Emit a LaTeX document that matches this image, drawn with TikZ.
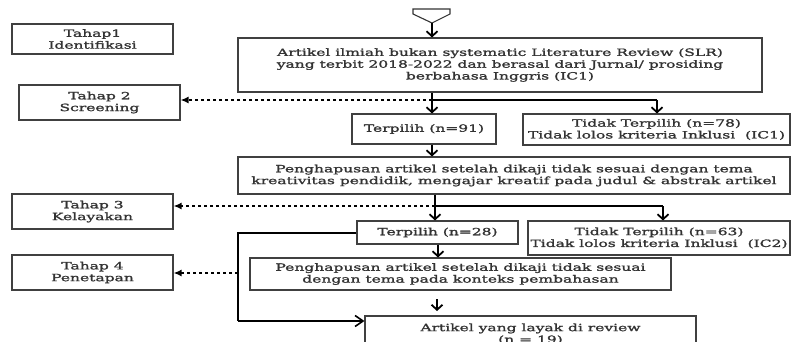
\documentclass[tikz,border=0pt]{standalone}
\usepackage{fontspec}
\usetikzlibrary{arrows.meta,calc}
\newfontfamily\df[FakeStretch=1.55,FakeBold=1.6]{DejaVu Serif}
\tikzset{
  box/.style={draw=black!75, line width=1.1pt, inner sep=0pt, align=center,
    font=\df\fontsize{10}{11.8}\selectfont, text=black!80},
  flow/.style={line width=1.8pt, draw=black},
  flowarr/.style={flow, -{Straight Barb[length=5pt,width=11pt]}},
  dasharr/.style={line width=1.8pt, dash pattern=on 3pt off 3pt, -{Latex[length=8pt,width=7pt]}},
}
\begin{document}
\begin{tikzpicture}[x=1pt,y=-1pt]
\clip (0,0) rectangle (791,342);
\fill[white] (0,0) rectangle (791,342);
% left stage boxes
\node[box, minimum width=161, minimum height=30] (t1) at (92.5,39) {Tahap1\\Identifikasi};
\node[box, minimum width=161, minimum height=35] (t2) at (99.5,102.5) {Tahap 2\\Screening};
\node[box, minimum width=161, minimum height=35] (t3) at (92.5,211.5) {Tahap 3\\Kelayakan};
\node[box, minimum width=161, minimum height=35] (t4) at (92.5,272.5) {Tahap 4\\Penetapan};
% main flow boxes
\node[box, minimum width=524, minimum height=54] (a1) at (500,65)
  {Artikel ilmiah bukan systematic Literature Review (SLR)\\yang terbit 2018-2022 dan berasal dari Jurnal/ prosiding\\berbahasa Inggris (IC1)};
\node[box, minimum width=144, minimum height=30] (p1) at (424,129) {Terpilih (n=91)};
\node[box, minimum width=267, minimum height=31] (tt1) at (656.5,129.5) {Tidak Terpilih (n=78)\\Tidak lolos kriteria Inklusi~ (IC1)};
\node[box, minimum width=552, minimum height=37] (h1) at (514,175.5)
  {Penghapusan artikel setelah dikaji tidak sesuai dengan tema\\kreativitas pendidik, mengajar kreatif pada judul \& abstrak artikel};
\node[box, minimum width=161, minimum height=23] (p2) at (437.5,232.5) {Terpilih (n=28)};
\node[box, minimum width=262, minimum height=34] (tt2) at (659,238) {Tidak Terpilih (n=63)\\Tidak lolos kriteria Inklusi~ (IC2)};
\node[box, minimum width=421, minimum height=32] (h2) at (460.5,274)
  {Penghapusan artikel setelah dikaji tidak sesuai\\dengan tema pada konteks pembahasan};
\node[box, minimum width=331, minimum height=36] (fin) at (530.5,334)
  {Artikel yang layak di review\\(n = 19)};
% start funnel
\draw[line width=1.1pt, black!80] (413,9) -- (450,9) -- (450,14) -- (432,23) -- (413,14) -- cycle;
\coordinate (s) at (432,23);
\draw[flowarr] (s) -- (s |- a1.north);
% split 1
\coordinate (j1) at (432,100);
\coordinate (r1) at (657,100);
\draw[flow] (a1.south -| j1) -- (j1);
\draw[flowarr] (j1) -- (j1 |- p1.north);
\draw[flow] (j1) -- (r1);
\draw[flowarr] (r1) -- (r1 |- tt1.north);
\draw[dasharr] (j1) -- (t2.east |- j1);
\draw[flowarr] (p1.south -| j1) -- (j1 |- h1.north);
% split 2
\coordinate (j2) at (435,206);
\coordinate (r2) at (663,206);
\draw[flow] (h1.south -| j2) -- (j2);
\draw[flowarr] (j2) -- (j2 |- p2.north);
\draw[flow] (j2) -- (r2);
\draw[flowarr] (r2) -- (r2 |- tt2.north);
\draw[dasharr] (j2) -- (t3.east |- j2);
\coordinate (d2) at (438,244);
\draw[flowarr] (p2.south -| d2) -- (d2 |- h2.north);
% bracket
\coordinate (bt) at (238,232.5);
\coordinate (bb) at (238,321);
\coordinate (bm) at (238,273);
\draw[flow, line width=2pt] (p2.west) -- (bt) -- (bb);
\draw[flow, line width=1.6pt, -{Straight Barb[length=8pt,width=11pt]}] (bb) -- (fin.west |- bb);
\draw[dasharr] (bm) -- (t4.east |- bm);
% arrow toward final box
\coordinate (f1) at (437,299);
\coordinate (f2) at (437,311);
\draw[flowarr] (f1) -- (f2);
\end{tikzpicture}
\end{document}
